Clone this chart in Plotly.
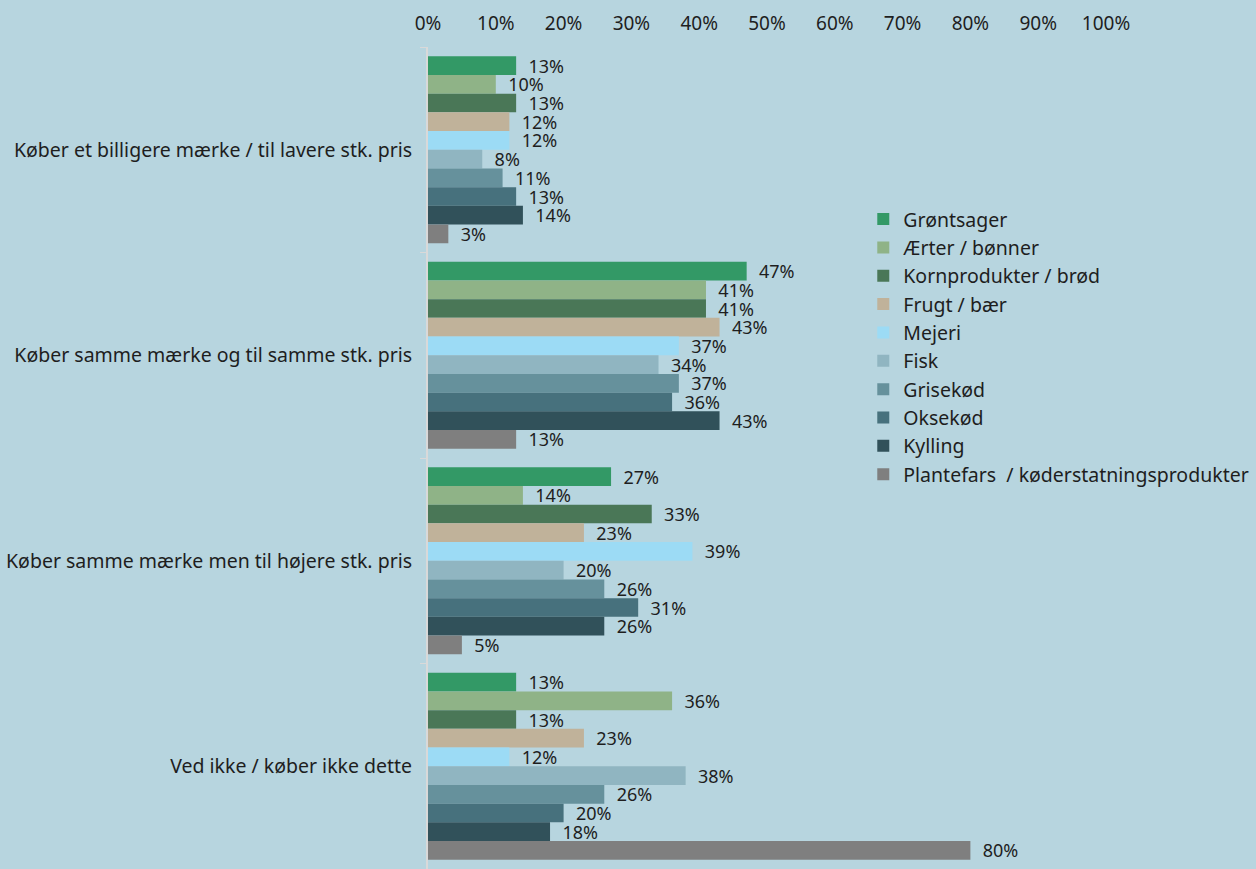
import plotly.graph_objects as go

categories = [
    "Køber et billigere mærke / til lavere stk. pris",
    "Køber samme mærke og til samme stk. pris",
    "Køber samme mærke men til højere stk. pris",
    "Ved ikke / køber ikke dette",
]

series_names = [
    "Grøntsager",
    "Ærter / bønner",
    "Kornprodukter / brød",
    "Frugt / bær",
    "Mejeri",
    "Fisk",
    "Grisekød",
    "Oksekød",
    "Kylling",
    "Plantefars  / køderstatningsprodukter",
]

groentsager = [13, 47, 27, 13]
aerter = [10, 41, 14, 36]
korn = [13, 41, 33, 13]
frugt = [12, 43, 23, 23]
mejeri = [12, 37, 39, 12]
fisk = [8, 34, 20, 38]
grisekoed = [11, 37, 26, 26]
oksekoed = [13, 36, 31, 20]
kylling = [14, 43, 26, 18]
plantefars = [3, 13, 5, 80]

series_values = [groentsager, aerter, korn, frugt, mejeri, fisk,
                 grisekoed, oksekoed, kylling, plantefars]

colors = ["#339966", "#8fb387", "#4a7757", "#c0b29a", "#9cdbf5",
          "#90b5c1", "#66919c", "#47717d", "#31515a", "#7f7f7f"]

tick_vals = [0, 10, 20, 30, 40, 50, 60, 70, 80, 90, 100]
tick_text = ["0%", "10%", "20%", "30%", "40%", "50%", "60%", "70%", "80%", "90%", "100%"]

FONT = "Noto Sans"
TXT = "#1e1e1e"

fig = go.Figure()
for name, vals, col in zip(series_names, series_values, colors):
    fig.add_trace(go.Bar(
        y=categories, x=vals, name=name, orientation="h",
        marker=dict(color=col, line=dict(width=0)),
        text=[f"\u00a0\u00a0{v}%" for v in vals],
        textposition="outside", cliponaxis=False, constraintext="none",
        textfont=dict(family=FONT, size=18, color=TXT),
        outsidetextfont=dict(family=FONT, size=18, color=TXT),
    ))

fig.update_layout(
    width=1256, height=869,
    barmode="group", bargap=0.09, bargroupgap=0,
    paper_bgcolor="#b7d5df", plot_bgcolor="#b7d5df",
    margin=dict(l=428, r=150, t=47, b=0, autoexpand=False),
    font=dict(family=FONT, size=19, color=TXT),
    showlegend=True,
    legend=dict(
        x=0.642, y=0.814, xanchor="left", yanchor="top",
        traceorder="normal", bgcolor="rgba(0,0,0,0)",
        font=dict(family=FONT, size=19.5, color=TXT),
        itemwidth=30, tracegroupgap=0,
    ),
)
fig.update_xaxes(
    side="top", range=[0, 100], tickvals=tick_vals, ticktext=tick_text,
    showgrid=False, zeroline=False, showline=False, ticks="",
    tickfont=dict(family=FONT, size=19, color=TXT),
    ticklabelstandoff=12, automargin=False,
)
fig.update_yaxes(
    autorange="reversed", showgrid=False, zeroline=False,
    showline=True, linecolor="#d9d9d9", linewidth=2,
    ticks="outside", tickson="boundaries", ticklen=6, tickcolor="#d9d9d9",
    tickfont=dict(family=FONT, size=19.5, color=TXT),
    ticklabelstandoff=10, automargin=False,
)

fig.write_html(
    "out.html",
    config={"displayModeBar": False},
    post_script="document.body.style.margin='0';document.body.style.padding='0';",
)
